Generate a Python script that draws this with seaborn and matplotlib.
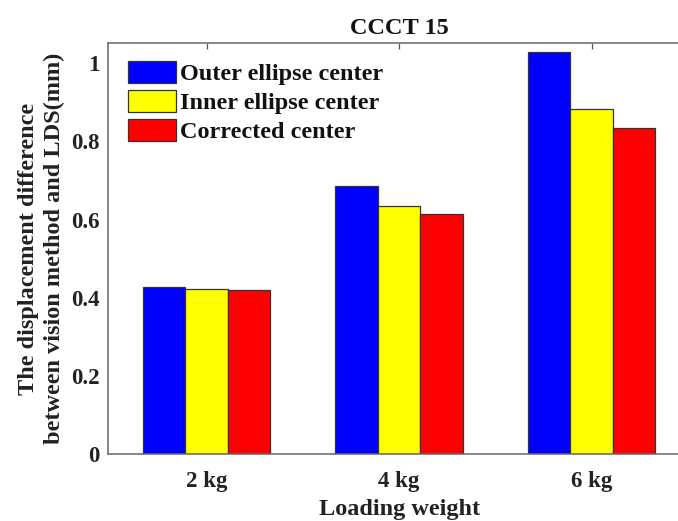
import matplotlib
matplotlib.use("Agg")
import matplotlib.pyplot as plt
import seaborn as sns
import pandas as pd

categories = ["2 kg", "4 kg", "6 kg"]
series_names = ["Outer ellipse center", "Inner ellipse center", "Corrected center"]
outer_vals = [0.427, 0.686, 1.028]
inner_vals = [0.423, 0.634, 0.884]
corrected_vals = [0.420, 0.614, 0.834]
y_ticks = [0, 0.2, 0.4, 0.6, 0.8, 1.0]
y_tick_labels = ["0", "0.2", "0.4", "0.6", "0.8", "1"]

df = pd.DataFrame({
    "weight": categories * 3,
    "series": [series_names[0]] * 3 + [series_names[1]] * 3 + [series_names[2]] * 3,
    "value": outer_vals + inner_vals + corrected_vals,
})

sns.set_theme(style="white")
plt.rcParams["font.family"] = ["Liberation Serif", "DejaVu Serif"]
plt.rcParams["font.weight"] = "bold"

fig = plt.figure(figsize=(6.78, 5.21), dpi=100)
ax = fig.add_axes([108.3 / 678, 67 / 521, (690 - 108.3) / 678, (454 - 43.3) / 521])

palette = ["#0000ff", "#ffff00", "#ff0000"]
sns.barplot(data=df, x="weight", y="value", hue="series", order=categories,
            hue_order=series_names, palette=palette, width=0.663, gap=0,
            edgecolor="#333333", linewidth=0.9, saturation=1, ax=ax)

ax.set_xlim(-0.511, 2.511)
ax.set_ylim(0, 1.051)
ax.set_yticks(y_ticks)
ax.set_yticklabels(y_tick_labels)

ax.tick_params(axis="both", direction="in", length=4.5, width=0.9, color="#555555",
               labelsize=16.5, top=True, right=True)
ax.tick_params(axis="x", pad=12.5)
ax.tick_params(axis="y", pad=6)
for lab in ax.get_xticklabels() + ax.get_yticklabels():
    lab.set_fontweight("bold")
    lab.set_color("#222222")

for sp in ax.spines.values():
    sp.set_visible(True)
    sp.set_color("#666666")
    sp.set_linewidth(1.1)

ax.set_title("CCCT 15", fontsize=17.5, fontweight="bold", pad=7, color="#111111")
ax.set_xlabel("Loading weight", fontsize=17.5, fontweight="bold", labelpad=5, color="#222222")
ax.set_ylabel("The displacement difference\nbetween vision method and LDS(mm)",
              fontsize=17.5, fontweight="bold", linespacing=1.3, color="#222222")
ax.yaxis.set_label_coords(-0.074, 0.5)

handles, labels = ax.get_legend_handles_labels()
leg = ax.legend(handles, labels, loc="upper left", bbox_to_anchor=(0.0335, 0.957),
                frameon=False, fontsize=17.5, handlelength=2.0, handleheight=1.0,
                handletextpad=0.15, labelspacing=0.2, borderaxespad=0, borderpad=0)
for t in leg.get_texts():
    t.set_fontweight("bold")
    t.set_color("#111111")

fig.savefig("out.png", dpi=100)
